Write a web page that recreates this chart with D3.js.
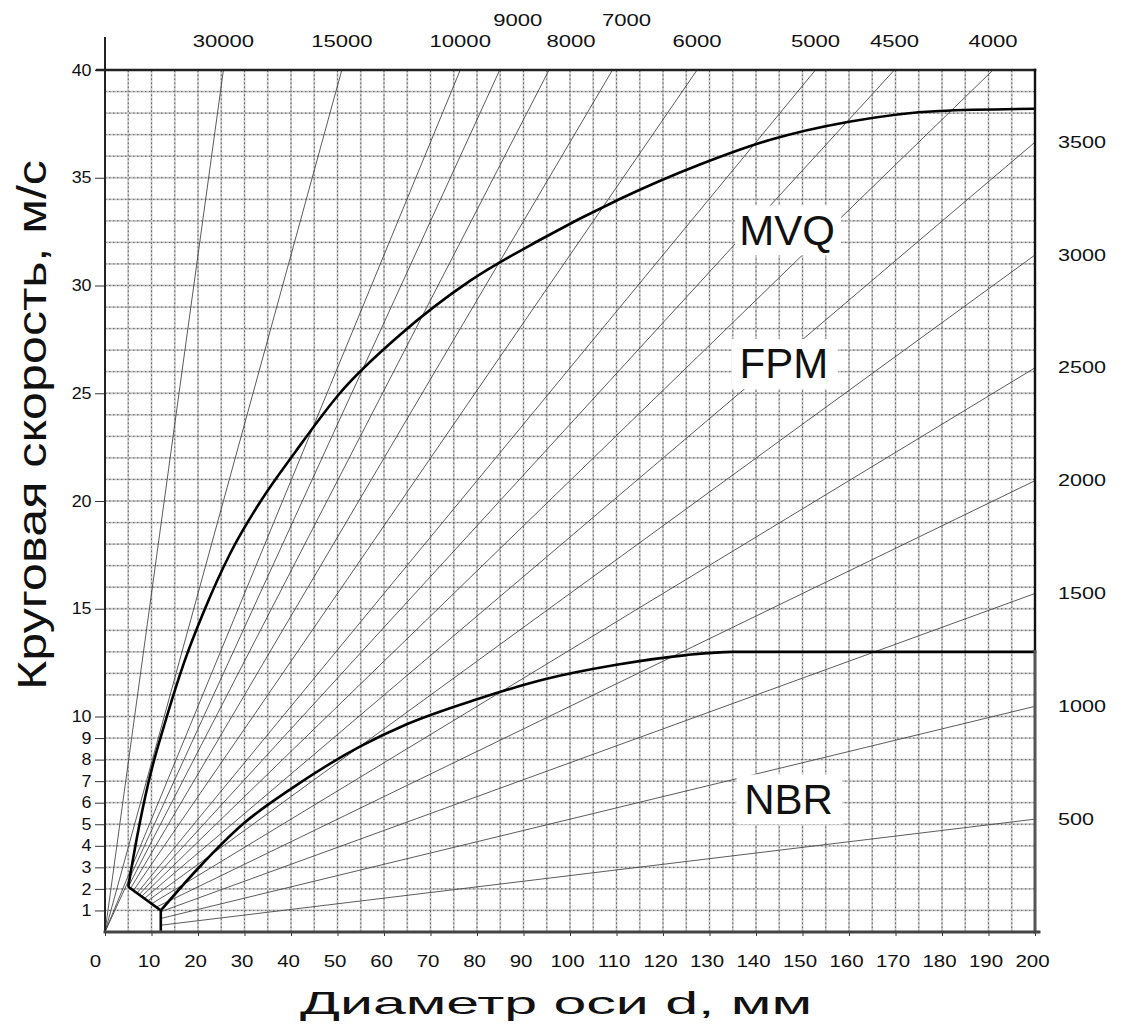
<!DOCTYPE html>
<html>
<head>
<meta charset="utf-8">
<script src="https://cdn.jsdelivr.net/npm/d3@7"></script>
<style>
  body { margin: 0; background: #fff; }
  text { font-family: "Liberation Sans", Arial, sans-serif; fill: #111; }
</style>
</head>
<body>
<div id="chart"></div>
<script>
// rpm rays, labelled along the top and along the right side
var rpmTop = [30000, 15000, 10000, 9000, 8000, 7000, 6000, 5000, 4500, 4000];
var rpmRight = [3500, 3000, 2500, 2000, 1500, 1000, 500];

// material limit curves: diameter (mm) / speed (m/s)
var mvqD = [5, 6.8, 9.3, 13.3, 17, 21.5, 27, 33.5, 41, 50.5, 63.4, 78.4, 93.4, 110.6, 127.8, 142.9, 160, 179.4, 200];
var mvqV = [2.1, 4.3, 6.9, 10, 12.5, 15, 17.6, 20, 22.3, 25, 27.7, 30.2, 32.1, 34, 35.6, 36.75, 37.6, 38.1, 38.2];
var nbrD = [12, 19.8, 29.6, 40.4, 54.8, 65, 80, 95, 110, 125, 135, 200];
var nbrV = [1, 2.9, 5, 6.7, 8.6, 9.65, 10.8, 11.75, 12.4, 12.85, 13, 13];
// lower corner joining the two curves
var cornerD = [5, 12, 12];
var cornerV = [2.1, 1, 0];

var regionNames = ["MVQ", "FPM", "NBR"];
var regionD = [146.7, 146, 147];
var regionV = [32.6, 26.4, 6.2];

var xTicks = [0, 10, 20, 30, 40, 50, 60, 70, 80, 90, 100, 110, 120, 130, 140, 150, 160, 170, 180, 190, 200];
var yTicks = [1, 2, 3, 4, 5, 6, 7, 8, 9, 10, 15, 20, 25, 30, 35, 40];

var chart = function(_parent) {
    this.parentElement = _parent;
    this.initVis();
}

chart.prototype.initVis = function() {
    var vis = this;
    vis.width = 1121;
    vis.height = 1028;

    vis.svg = d3.select("#" + vis.parentElement).append("svg")
        .attr("width", vis.width)
        .attr("height", vis.height);

    vis.x = d3.scaleLinear().domain([0, 200]).range([105, 1035]);
    vis.y = d3.scaleLinear().domain([0, 40]).range([932, 70]);

    vis.drawGrid();
    vis.drawRays();
    vis.drawCurves();
    vis.drawAxes();
    vis.drawLabels();
}

chart.prototype.drawGrid = function() {
    var vis = this;
    var g = vis.svg.append("g").attr("class", "grid");
    var xs = d3.range(5, 200, 5), ys = d3.range(1, 40, 1);

    // light band under each grid line, dark dotted line on top
    [["#c8c8c8", 1.8, null], ["#3a3a3a", 0.7, "1.5,2.5"]].forEach(function(st) {
        g.selectAll(null).data(xs).enter().append("line")
            .attr("x1", function(d) { return vis.x(d); })
            .attr("x2", function(d) { return vis.x(d); })
            .attr("y1", vis.y(0)).attr("y2", vis.y(40))
            .attr("stroke", st[0]).attr("stroke-width", st[1])
            .attr("stroke-dasharray", st[2]);
        g.selectAll(null).data(ys).enter().append("line")
            .attr("y1", function(d) { return vis.y(d); })
            .attr("y2", function(d) { return vis.y(d); })
            .attr("x1", vis.x(0)).attr("x2", vis.x(200))
            .attr("stroke", st[0]).attr("stroke-width", st[1])
            .attr("stroke-dasharray", st[2]);
    });
}

chart.prototype.rayEnds = function(n) {
    // v = pi * d * n / 60000
    var k = Math.PI * n / 60000;
    var d1 = cornerD[0], v1 = cornerV[0], d2 = cornerD[1], v2 = cornerV[1];
    var d0 = 0, v0 = 0;
    if (k < v1 / d1) {
        var s = (v2 - v1) / (d2 - d1);
        var dd = (v1 - s * d1) / (k - s);
        if (dd <= d2) { d0 = dd; v0 = k * dd; }
        else { d0 = d2; v0 = k * d2; }
    }
    var dEnd = Math.min(200, 40 / k);
    return [[d0, v0], [dEnd, k * dEnd]];
}

chart.prototype.drawRays = function() {
    var vis = this;
    var rpm = rpmTop.concat(rpmRight);
    vis.svg.append("g").selectAll("line")
        .data(rpm).enter().append("line")
        .attr("x1", function(n) { return vis.x(vis.rayEnds(n)[0][0]); })
        .attr("y1", function(n) { return vis.y(vis.rayEnds(n)[0][1]); })
        .attr("x2", function(n) { return vis.x(vis.rayEnds(n)[1][0]); })
        .attr("y2", function(n) { return vis.y(vis.rayEnds(n)[1][1]); })
        .attr("stroke", "#4a4a4a")
        .attr("stroke-width", 0.9);
}

chart.prototype.drawCurves = function() {
    var vis = this;
    var line = d3.line()
        .x(function(p) { return vis.x(p[0]); })
        .y(function(p) { return vis.y(p[1]); })
        .curve(d3.curveMonotoneX);
    var g = vis.svg.append("g");
    g.append("path").datum(d3.zip(mvqD, mvqV)).attr("d", line)
        .attr("fill", "none").attr("stroke", "#000").attr("stroke-width", 2.6);
    g.append("path").datum(d3.zip(nbrD, nbrV)).attr("d", line)
        .attr("fill", "none").attr("stroke", "#000").attr("stroke-width", 2.6);
    g.append("path").datum(d3.zip(cornerD, cornerV))
        .attr("d", line.curve(d3.curveLinear))
        .attr("fill", "none").attr("stroke", "#000").attr("stroke-width", 2.6);
}

chart.prototype.drawAxes = function() {
    var vis = this;

    // bottom axis
    var xAxis = d3.axisBottom(vis.x).tickValues(xTicks).tickSize(4).tickPadding(20);
    var gx = vis.svg.append("g").attr("transform", "translate(0," + vis.y(0) + ")").call(xAxis);
    gx.select(".domain").remove();
    gx.selectAll(".tick line").attr("stroke", "#333");
    gx.selectAll(".tick text")
        .attr("font-size", 16).attr("font-family", "Liberation Sans")
        .attr("fill", "#111")
        .attr("transform", function(d) { return "translate(" + (d === 0 ? -10 : -3) + ",0) scale(1.28,1)"; });

    // left axis
    var yAxis = d3.axisLeft(vis.y).tickValues(yTicks).tickSize(10).tickPadding(2);
    var gy = vis.svg.append("g").attr("transform", "translate(" + vis.x(0) + ",0)").call(yAxis);
    gy.select(".domain").remove();
    gy.selectAll(".tick line").attr("stroke", "#333").attr("stroke-width", 1);
    gy.selectAll(".tick text")
        .attr("font-size", 16).attr("font-family", "Liberation Sans")
        .attr("fill", "#111")
        .attr("transform", "scale(1.12,1)");

    // frame lines
    var f = vis.svg.append("g").attr("stroke-linecap", "square");
    f.append("line").attr("x1", vis.x(0)).attr("x2", vis.x(0))
        .attr("y1", vis.y(0)).attr("y2", 38)
        .attr("stroke", "#222").attr("stroke-width", 2);
    f.append("line").attr("x1", vis.x(0) - 8).attr("x2", vis.x(200))
        .attr("y1", vis.y(40)).attr("y2", vis.y(40))
        .attr("stroke", "#222").attr("stroke-width", 2.6);
    f.append("line").attr("x1", vis.x(200)).attr("x2", vis.x(200))
        .attr("y1", vis.y(40)).attr("y2", vis.y(nbrV[nbrV.length - 1]))
        .attr("stroke", "#111").attr("stroke-width", 2.4);
    f.append("line").attr("x1", vis.x(200)).attr("x2", vis.x(200))
        .attr("y1", vis.y(nbrV[nbrV.length - 1])).attr("y2", vis.y(0))
        .attr("stroke", "#555").attr("stroke-width", 3);
    f.append("line").attr("x1", vis.x(0)).attr("x2", vis.x(200) + 4)
        .attr("y1", vis.y(0)).attr("y2", vis.y(0))
        .attr("stroke", "#444").attr("stroke-width", 3);
}

chart.prototype.drawLabels = function() {
    var vis = this;

    // rpm labels along the top, where each ray meets v = 40
    var raised = {9000: true, 7000: true};
    var shift = {9000: 18, 8000: 22, 7000: 14};
    vis.svg.append("g").selectAll("text")
        .data(rpmTop).enter().append("text")
        .attr("transform", function(n) {
            var xx = vis.x(vis.rayEnds(n)[1][0]) + (shift[n] || 0);
            return "translate(" + xx + "," + (raised[n] ? 26 : 47) + ") scale(1.38,1)";
        })
        .attr("text-anchor", "middle")
        .attr("font-size", 16)
        .text(function(n) { return n; });

    // rpm labels on the right, where each ray meets d = 200
    vis.svg.append("g").selectAll("text")
        .data(rpmRight).enter().append("text")
        .attr("transform", function(n) {
            return "translate(1058," + vis.y(vis.rayEnds(n)[1][1]) + ") scale(1.35,1)";
        })
        .attr("dy", "0.35em")
        .attr("font-size", 16)
        .text(function(n) { return n; });

    // material names on white boxes
    var rg = vis.svg.append("g").selectAll("g")
        .data(regionNames).enter().append("g")
        .attr("transform", function(d, i) {
            return "translate(" + vis.x(regionD[i]) + "," + vis.y(regionV[i]) + ")";
        });
    rg.append("rect")
        .attr("x", -52).attr("y", -24).attr("width", 106).attr("height", 50)
        .attr("fill", "#fff");
    rg.append("text")
        .attr("text-anchor", "middle")
        .attr("dy", "0.36em")
        .attr("font-size", 42)
        .text(function(d) { return d; });

    // axis titles
    vis.svg.append("text")
        .attr("transform", "translate(46,425) scale(1.3,1) rotate(-90)")
        .attr("text-anchor", "middle")
        .attr("font-size", 31)
        .attr("textLength", 530)
        .attr("lengthAdjust", "spacingAndGlyphs")
        .text("Круговая скорость, м/с");

    vis.svg.append("text")
        .attr("x", 556).attr("y", 1014)
        .attr("text-anchor", "middle")
        .attr("font-size", 32)
        .attr("textLength", 512)
        .attr("lengthAdjust", "spacingAndGlyphs")
        .text("Диаметр оси d, мм");
}

new chart("chart");
</script>
</body>
</html>
